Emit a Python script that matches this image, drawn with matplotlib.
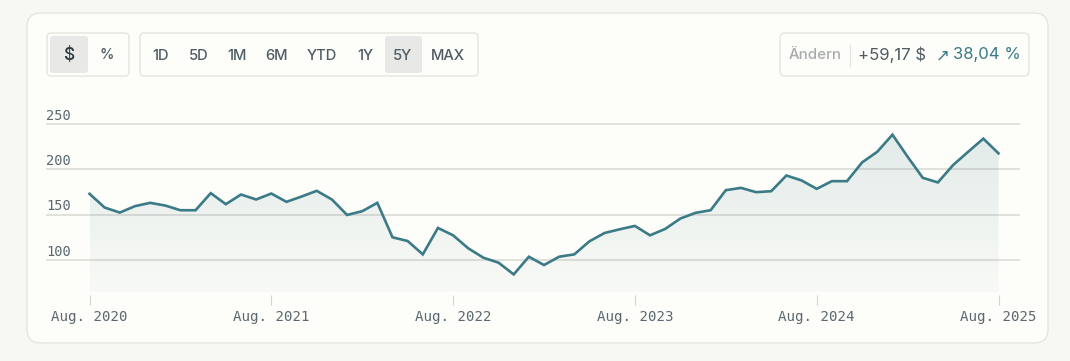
import matplotlib
matplotlib.use("Agg")
import matplotlib.pyplot as plt
import numpy as np
from matplotlib.patches import FancyBboxPatch, Polygon

# ---------------- data ----------------
prices = [173.0, 157.8, 152.2, 159.3, 163.0, 160.0, 154.8, 154.8, 173.7, 161.5,
          172.2, 166.7, 173.3, 164.1, 170.0, 176.3, 166.7, 149.6, 153.7, 163.0,
          124.8, 120.7, 105.9, 135.2, 127.0, 112.6, 102.2, 96.7, 83.7, 103.3,
          94.1, 103.3, 105.9, 120.4, 129.6, 133.7, 137.4, 127.0, 134.1, 145.6,
          151.9, 154.8, 177.0, 179.6, 174.8, 175.9, 193.3, 187.8, 178.5, 187.0,
          187.0, 207.8, 219.6, 238.5, 214.1, 190.7, 185.6, 204.8, 219.6, 234.1,
          217.8]
months = list(range(len(prices)))
xtick_pos = [0, 12, 24, 36, 48, 60]
xtick_labels = ["Aug. 2020", "Aug. 2021", "Aug. 2022", "Aug. 2023", "Aug. 2024", "Aug. 2025"]
ytick_vals = [100, 150, 200, 250]
unit_buttons = ["$", "%"]
range_buttons = ["1D", "5D", "1M", "6M", "YTD", "1Y", "5Y", "MAX"]
change_label = "Ändern"
change_abs = "+59,17 $"
change_pct = "38,04 %"

# ---------------- style ----------------
W, H = 1070, 361
BG = "#f8f8f3"
CARD = "#fdfdf9"
BORDER = "#e6e6e0"
LINE = "#3b7a87"
TEXT = "#4f5c63"
AXTEXT = "#5b686f"
MUTED = "#a7acae"
GRID = "#dcdcd6"
SEL = "#e8e9e6"
UI_FONT = ["Inter", "DejaVu Sans"]
MONO = "DejaVu Sans Mono"

fig = plt.figure(figsize=(W / 100, H / 100), dpi=100, facecolor=BG)

# background / UI axes in pixel coords
ui = fig.add_axes([0, 0, 1, 1])
ui.set_xlim(0, W)
ui.set_ylim(H, 0)
ui.axis("off")
ui.set_zorder(0)


def box(x0, y0, x1, y1, r, fc, ec, lw=1.0, z=1):
    p = FancyBboxPatch((x0 + r, y0 + r), (x1 - x0) - 2 * r, (y1 - y0) - 2 * r,
                       boxstyle=f"round,pad={r}", fc=fc, ec=ec, lw=lw, zorder=z,
                       mutation_aspect=1)
    ui.add_patch(p)


# card
box(27, 13, 1048, 343, 14, CARD, BORDER, 1.0, 1)

# unit toggle group
box(47, 33, 129, 76, 4, CARD, BORDER, 1.0, 2)
box(50, 36, 88, 73, 3, SEL, "none", 0, 3)
ui.text(69, 55, unit_buttons[0], ha="center", va="center", fontsize=12.5,
        color="#2f3b40", family=UI_FONT, weight="medium", zorder=4)
ui.text(107, 55, unit_buttons[1], ha="center", va="center", fontsize=10.5,
        color=TEXT, family=UI_FONT, weight="medium", zorder=4)

# range group
box(140, 33, 478, 76, 4, CARD, BORDER, 1.0, 2)
range_cx = [161, 199, 237, 277, 322, 365, 403, 448]
box(385, 36, 422, 73, 3, SEL, "none", 0, 3)
for lab, cx in zip(range_buttons, range_cx):
    ui.text(cx, 55.5, lab, ha="center", va="center", fontsize=10.6,
            color=TEXT, family=UI_FONT, weight="medium", zorder=4)

# change box
box(780, 33, 1029, 76, 5, CARD, BORDER, 1.0, 2)
ui.text(815, 55, change_label, ha="center", va="center", fontsize=10.8,
        color=MUTED, family=UI_FONT, weight="medium", zorder=4)
ui.plot([850, 850], [45, 66], color=BORDER, lw=1.0, zorder=4)
ui.text(891.5, 55, change_abs, ha="center", va="center", fontsize=12,
        color=TEXT, family=UI_FONT, zorder=4)
ui.text(943, 55.5, "↗", ha="center", va="center", fontsize=12,
        color=LINE, family=["DejaVu Sans"], zorder=4)
ui.text(986.5, 55, change_pct, ha="center", va="center", fontsize=12,
        color=LINE, family=UI_FONT, zorder=4)

# ---------------- chart axes ----------------
px_per_month = 15.15
x0_px = 89.5
left_px, right_px = 46, 1020
top_px, bottom_px = 116, 295
px_per_unit = 135.4 / 150.0
y250_px = 124.3

def val_at(ypx):
    return 250 - (ypx - y250_px) / px_per_unit

xlim = ((left_px - x0_px) / px_per_month, (right_px - x0_px) / px_per_month)
ylim = (val_at(bottom_px), val_at(top_px))

ax = fig.add_axes([left_px / W, 1 - bottom_px / H, (right_px - left_px) / W,
                   (bottom_px - top_px) / H])
ax.set_zorder(5)
ax.patch.set_alpha(0)
ax.set_xlim(*xlim)
ax.set_ylim(*ylim)
for s in ax.spines.values():
    s.set_visible(False)

# gridlines
for v in ytick_vals:
    ax.axhline(v, color=GRID, lw=1.2, zorder=1)
    ax.text(0, v + 1.3, str(v), transform=ax.get_yaxis_transform(),
            ha="left", va="bottom", fontsize=9.8, family=MONO, color=AXTEXT)

# gradient fill
base = val_at(292)
xs = np.array(months, dtype=float)
ys = np.array(prices, dtype=float)
ymax = ys.max()
grad = np.linspace(0.14, 0.025, 256).reshape(-1, 1)
rgb = np.array(matplotlib.colors.to_rgb(LINE))
img = np.zeros((256, 1, 4))
img[..., :3] = rgb
img[..., 3] = grad
im = ax.imshow(img, extent=[xs[0], xs[-1], base, ymax], origin="upper",
               aspect="auto", zorder=2, interpolation="bilinear")
verts = [(xs[0], base)] + list(zip(xs, ys)) + [(xs[-1], base)]
poly = Polygon(verts, closed=True, fc="none", ec="none")
ax.add_patch(poly)
im.set_clip_path(poly)

ax.plot(xs, ys, color=LINE, lw=1.9, zorder=3, solid_joinstyle="miter")
ax.set_ylim(*ylim)
ax.set_xlim(*xlim)

# x ticks
ax.set_yticks([])
ax.set_xticks(xtick_pos)
ax.set_xticklabels(xtick_labels, family=MONO, fontsize=10.2, color=AXTEXT)
ax.tick_params(axis="x", direction="out", length=7.5, width=0.8,
               color="#d6d6d0", pad=3)

fig.savefig("out.png", dpi=100, facecolor=BG)
